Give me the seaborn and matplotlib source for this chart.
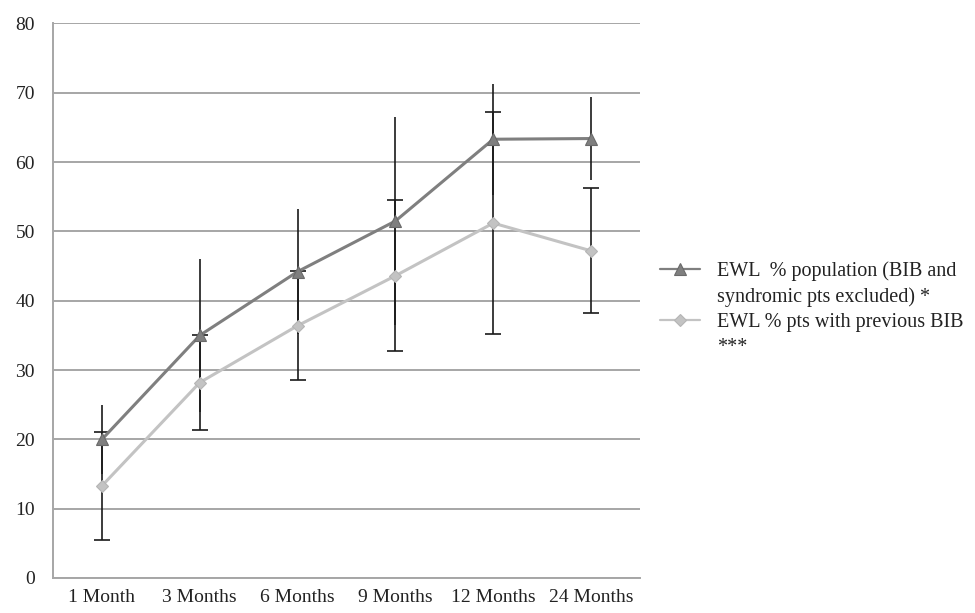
import pandas as pd
import matplotlib.pyplot as plt
from matplotlib.lines import Line2D
import seaborn as sns

# Data
months = ['1 Month', '3 Months', '6 Months', '9 Months', '12 Months', '24 Months']
ewl_population = [20.0, 35.0, 44.2, 51.5, 63.3, 63.4]
ewl_population_err = [5.0, 11.0, 9.0, 15.0, 8.0, 6.0]
ewl_prev_bib = [13.3, 28.2, 36.4, 43.6, 51.2, 47.2]
ewl_prev_bib_err = [7.8, 6.9, 7.9, 10.9, 16.0, 9.0]

label_pop = ['EWL  % population (BIB and', 'syndromic pts excluded) *']
label_bib = ['EWL % pts with previous BIB', '***']

sns.set_style('white')
plt.rcParams['font.family'] = ['Liberation Serif', 'DejaVu Serif']

df = pd.DataFrame({
    'month': months * 2,
    'value': ewl_population + ewl_prev_bib,
    'series': ['pop'] * len(months) + ['bib'] * len(months),
})

fig = plt.figure(figsize=(9.75, 6.13), dpi=100)
ax = fig.add_axes([0.0544, 0.0571, 0.602, 0.9046])

# error bars first so markers sit on top (first series has no caps)
x = range(len(months))
ax.errorbar(x, ewl_population, yerr=ewl_population_err, fmt='none',
            ecolor='#1a1a1a', elinewidth=1.2, capsize=0, zorder=2)
ax.errorbar(x, ewl_prev_bib, yerr=ewl_prev_bib_err, fmt='none',
            ecolor='#1a1a1a', elinewidth=1.2, capsize=6, capthick=1.2, zorder=2)

sns.lineplot(data=df, x='month', y='value', hue='series', style='series',
             palette={'pop': '#7f7f7f', 'bib': '#c3c3c3'},
             markers={'pop': '^', 'bib': 'D'}, dashes=False,
             markersize=8, markeredgewidth=0.8, linewidth=2.2,
             sort=False, ax=ax, zorder=3, legend=False)
line_pop, line_bib = ax.lines[-2:]
line_pop.set_markeredgecolor('#6a6a6a')
line_pop.set_markersize(9)
line_bib.set_markeredgecolor('#b5b5b5')
line_bib.set_markersize(6.5)

ax.set_xlim(-0.5, len(months) - 0.5)
ax.set_ylim(0, 80)
ax.set_yticks(range(0, 81, 10))
ax.yaxis.grid(True, color='#a6a6a6', linewidth=1.4)
ax.set_axisbelow(True)
ax.set_xlabel('')
ax.set_ylabel('')

for side in ['top', 'right']:
    ax.spines[side].set_visible(False)
for side in ['left', 'bottom']:
    ax.spines[side].set_color('#a6a6a6')
    ax.spines[side].set_linewidth(1.4)

ax.tick_params(axis='y', length=0, pad=13, labelsize=14, labelcolor='#222222')
ax.tick_params(axis='x', length=0, pad=8, labelsize=14, labelcolor='#222222')

# legend: marker aligned with the first line of each label
h_pop = Line2D([], [], color='#7f7f7f', lw=1.6, marker='^', ms=8,
               mec='#6a6a6a', mew=0.8)
h_bib = Line2D([], [], color='#c3c3c3', lw=1.6, marker='D', ms=6,
               mec='#b5b5b5', mew=0.8)
blank = Line2D([], [], alpha=0)
leg = ax.legend([h_pop, blank, h_bib, blank], label_pop + label_bib,
                loc='center left', bbox_to_anchor=(660 / 975, 1 - 309 / 613),
                bbox_transform=fig.transFigure, frameon=False, fontsize=14.5,
                handlelength=2.0, handletextpad=0.85, labelspacing=0.3,
                borderpad=0, borderaxespad=0)
for t in leg.get_texts():
    t.set_color('#222222')

fig.savefig('out.png', dpi=100)
